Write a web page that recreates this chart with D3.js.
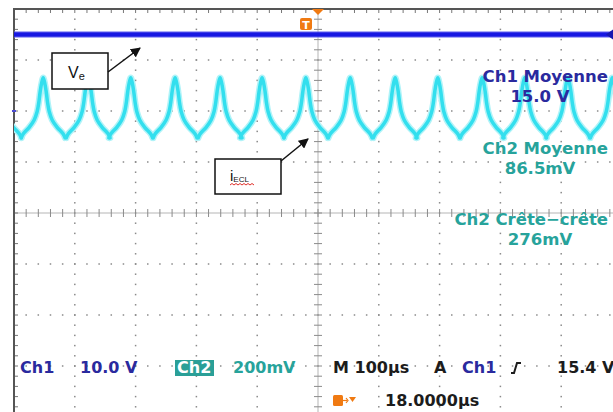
<!DOCTYPE html>
<html>
<head>
  <meta charset="utf8">
  <style type="text/css">
    body { margin: 0; background: #fff; }
    svg { display: block; }
    .scope-text { font-family: 'DejaVu Sans', sans-serif; font-weight: bold; }
    .note-text { font-family: 'Liberation Sans', Arial, sans-serif; }
  </style>
</head>
<body>

<script src="https://cdn.jsdelivr.net/npm/d3@7/dist/d3.min.js"></script>

<script type="text/javascript">

var width = 613, height = 412;

// horizontal: 100 us/div, trigger at centre
var timeRange = [-500, 500];

// Ch1 (V_e): 10 V/div, ground marker 2 div above centre
var ch1Scale = 10, ch1Ground = 2;
var ch1Times = [-500, 500];
var ch1Volts = [15.0, 15.0];

// Ch2 (i_ECL): 200 mV/div, ground ~1.3 div above centre
var ch2Scale = 200, ch2Ground = 1.3;
// peak instants (us)
var ch2PeakTimes = [-524, -452, -378, -308, -235, -161, -92, -20, 53, 127, 197, 270, 340, 411, 484];
// shape of one ripple cycle around its peak
var ch2ShapeOffsets = [-36, -33, -23, -14.8, -9.9, -7.4, -5, -2.5, 0, 2.5, 5, 7.4, 9.9, 14.8, 23, 33, 36];
var ch2ShapeMv = [35, 50, 76, 105, 138, 170, 215, 250, 270, 250, 215, 170, 138, 105, 76, 50, 35];

// measurement readouts
var measureTitles = ['Ch1 Moyenne', 'Ch2 Moyenne', 'Ch2 Cr\u00eate\u2212cr\u00eate'];
var measureValues = ['15.0 V', '86.5mV', '276mV'];
var measureChannels = [1, 2, 2];

var chColor = { 1: '#2a2a9e', 2: '#27a39b' };

var x = d3.scaleLinear().domain(timeRange).range([14, 622]);
var yDiv = d3.scaleLinear().domain([-4, 4]).range([417, 9]);

var svg = d3.select('body').append('svg')
    .attr('width', width)
    .attr('height', height);

svg.append('rect').attr('width', width).attr('height', height).attr('fill', '#fff');

var defs = svg.append('defs');
defs.append('clipPath').attr('id', 'screen')
  .append('rect')
  .attr('x', x(timeRange[0])).attr('y', yDiv(4))
  .attr('width', x(timeRange[1]) - x(timeRange[0]))
  .attr('height', yDiv(-4) - yDiv(4));

defs.append('marker')
    .attr('id', 'arrow')
    .attr('viewBox', '0 0 10 10')
    .attr('refX', 9).attr('refY', 5)
    .attr('markerWidth', 10).attr('markerHeight', 10)
    .attr('markerUnits', 'userSpaceOnUse')
    .attr('orient', 'auto')
  .append('path')
    .attr('d', 'M0,0 L10,5 L0,10 Z')
    .attr('fill', '#111');

// ---- graticule ----
var grid = svg.append('g').attr('class', 'grid');

var majorT = d3.range(-400, 401, 100).filter(function(d) { return d !== 0 });
var majorY = d3.range(-3, 4).filter(function(d) { return d !== 0 });
var minorT = d3.range(-500, 501, 20);
var minorY = d3.range(-20, 21).map(function(d) { return d / 5 });

// dotted horizontal division lines
majorY.forEach(function(dv) {
  grid.selectAll(null)
    .data(minorT)
    .enter().append('rect')
    .attr('x', function(t) { return x(t) - 0.75 })
    .attr('y', yDiv(dv) - 0.75)
    .attr('width', 1.5).attr('height', 1.5)
    .attr('fill', '#8a8a8a');
});

// dotted vertical division lines
majorT.forEach(function(t) {
  grid.selectAll(null)
    .data(minorY)
    .enter().append('rect')
    .attr('x', x(t) - 0.75)
    .attr('y', function(dv) { return yDiv(dv) - 0.75 })
    .attr('width', 1.5).attr('height', 1.5)
    .attr('fill', '#8a8a8a');
});

// centre cross
grid.append('line')
  .attr('x1', x(-500)).attr('x2', x(500))
  .attr('y1', yDiv(0)).attr('y2', yDiv(0))
  .attr('stroke', '#b5b5b5').attr('stroke-width', 1);
grid.append('line')
  .attr('x1', x(0)).attr('x2', x(0))
  .attr('y1', yDiv(4)).attr('y2', yDiv(-4))
  .attr('stroke', '#b5b5b5').attr('stroke-width', 1);

grid.selectAll('.ctick-x')
  .data(minorT)
  .enter().append('line')
  .attr('class', 'ctick-x')
  .attr('x1', function(t) { return x(t) }).attr('x2', function(t) { return x(t) })
  .attr('y1', yDiv(0) - 4).attr('y2', yDiv(0) + 4)
  .attr('stroke', '#8a8a8a').attr('stroke-width', 1);

grid.selectAll('.ctick-y')
  .data(minorY)
  .enter().append('line')
  .attr('class', 'ctick-y')
  .attr('x1', x(0) - 4).attr('x2', x(0) + 4)
  .attr('y1', function(d) { return yDiv(d) }).attr('y2', function(d) { return yDiv(d) })
  .attr('stroke', '#8a8a8a').attr('stroke-width', 1);

// border ticks
grid.selectAll('.btick-x')
  .data(minorT)
  .enter().append('line')
  .attr('x1', function(t) { return x(t) }).attr('x2', function(t) { return x(t) })
  .attr('y1', yDiv(4)).attr('y2', yDiv(4) + 4)
  .attr('stroke', '#777').attr('stroke-width', 1);

grid.selectAll('.btick-y')
  .data(minorY)
  .enter().append('line')
  .attr('x1', x(-500)).attr('x2', x(-500) + 4)
  .attr('y1', function(d) { return yDiv(d) }).attr('y2', function(d) { return yDiv(d) })
  .attr('stroke', '#777').attr('stroke-width', 1);

// frame (top and left edges visible)
grid.append('path')
  .attr('d', 'M' + x(-500) + ',' + height + 'V' + yDiv(4) + 'H' + width)
  .attr('fill', 'none')
  .attr('stroke', '#555')
  .attr('stroke-width', 2);

// ---- traces ----
var traces = svg.append('g').attr('clip-path', 'url(#screen)');

var ch1Y = function(v) { return yDiv(ch1Ground + v / ch1Scale) };
var ch2Y = function(mv) { return yDiv(ch2Ground + mv / ch2Scale) };

var ch1Data = ch1Times.map(function(t, i) { return [t, ch1Volts[i]] });

var line1 = d3.line()
  .x(function(d) { return x(d[0]) })
  .y(function(d) { return ch1Y(d[1]) });

traces.append('path')
  .datum(ch1Data)
  .attr('d', line1)
  .attr('fill', 'none')
  .attr('stroke', '#6a6af0')
  .attr('stroke-width', 7)
  .attr('opacity', 0.55);

traces.append('path')
  .datum(ch1Data)
  .attr('d', line1)
  .attr('fill', 'none')
  .attr('stroke', '#1717e2')
  .attr('stroke-width', 4.5);

var line2 = d3.line()
  .x(function(d) { return x(d[0]) })
  .y(function(d) { return ch2Y(d[1]) })
  .curve(d3.curveCatmullRom.alpha(0.5));

var cycles = ch2PeakTimes.map(function(p) {
  return ch2ShapeOffsets.map(function(o, i) { return [p + o, ch2ShapeMv[i]] });
});

traces.selectAll('.halo2')
  .data(cycles)
  .enter().append('path')
  .attr('d', line2)
  .attr('fill', 'none')
  .attr('stroke', '#b0f3f8')
  .attr('stroke-width', 6.5)
  .attr('stroke-linecap', 'round');

traces.selectAll('.trace2')
  .data(cycles)
  .enter().append('path')
  .attr('d', line2)
  .attr('fill', 'none')
  .attr('stroke', '#33dfee')
  .attr('stroke-width', 3.5)
  .attr('stroke-linecap', 'round');

// channel markers
svg.append('path')
  .attr('d', 'M' + (width - 7) + ',' + ch1Y(15) + 'l7,-5v10z')
  .attr('fill', '#1717b0');
svg.append('line')
  .attr('x1', x(-500) - 2).attr('x2', x(-500) + 2)
  .attr('y1', yDiv(ch1Ground)).attr('y2', yDiv(ch1Ground))
  .attr('stroke', '#4a4ad0').attr('stroke-width', 2);

// trigger marker
svg.append('path')
  .attr('d', 'M' + (x(0) - 6) + ',' + yDiv(4) + 'h12l-6,6z')
  .attr('fill', '#f07a12');
svg.append('rect')
  .attr('x', x(0) - 18).attr('y', 18).attr('width', 12).attr('height', 12)
  .attr('rx', 2).attr('fill', '#f07a12');
svg.append('text')
  .attr('class', 'scope-text')
  .attr('x', x(0) - 12).attr('y', 28.5)
  .attr('text-anchor', 'middle')
  .attr('font-size', 11)
  .attr('fill', '#fff')
  .text('T');

// ---- measurement readouts ----
var readY = [[82, 101.5], [154, 173.5], [225, 244.5]];
var readout = svg.append('g').attr('class', 'scope-text').attr('font-size', 16.5);

measureTitles.forEach(function(title, i) {
  var c = chColor[measureChannels[i]];
  readout.append('text')
    .attr('x', 608).attr('y', readY[i][0])
    .attr('text-anchor', 'end')
    .attr('fill', c)
    .text(title);
  readout.append('text')
    .attr('x', 540).attr('y', readY[i][1])
    .attr('text-anchor', 'middle')
    .attr('fill', c)
    .text(measureValues[i]);
});

// ---- status line ----
var statusBar = svg.append('g').attr('class', 'scope-text').attr('font-size', 16);

statusBar.append('text').attr('x', 20).attr('y', 373).attr('fill', chColor[1]).text('Ch1');
statusBar.append('text').attr('x', 80).attr('y', 373).attr('fill', chColor[1]).text('10.0 V');
statusBar.append('rect').attr('x', 175).attr('y', 360).attr('width', 39).attr('height', 16).attr('fill', '#2a9f97');
statusBar.append('text').attr('x', 177).attr('y', 373).attr('fill', '#fff').text('Ch2');
statusBar.append('text').attr('x', 233).attr('y', 373).attr('fill', chColor[2]).text('200mV');
statusBar.append('text').attr('x', 333).attr('y', 373).attr('fill', '#1c1c1c').text('M 100\u00b5s');
statusBar.append('text').attr('x', 434).attr('y', 373).attr('fill', '#1c1c1c').text('A');
statusBar.append('text').attr('x', 462).attr('y', 373).attr('fill', chColor[1]).text('Ch1');
statusBar.append('path')
  .attr('d', 'M511,373 h3 l3,-10 h4')
  .attr('fill', 'none').attr('stroke', '#1c1c1c').attr('stroke-width', 2);
statusBar.append('text').attr('x', 557).attr('y', 373).attr('fill', '#1c1c1c').text('15.4 V');

statusBar.append('rect').attr('x', 333).attr('y', 395).attr('width', 10).attr('height', 11).attr('rx', 1.5).attr('fill', '#f07a12');
statusBar.append('path').attr('d', 'M343,400.5 h4').attr('stroke', '#f07a12').attr('stroke-width', 1.2);
statusBar.append('path').attr('d', 'M346,398 l2,2.5 l-2,2.5').attr('fill', 'none').attr('stroke', '#f07a12').attr('stroke-width', 1.2);
statusBar.append('path').attr('d', 'M349,397 h7 l-3.5,5z').attr('fill', '#f07a12');
statusBar.append('text').attr('x', 385).attr('y', 406).attr('fill', '#1c1c1c').text('18.0000\u00b5s');

// ---- annotation boxes ----
var notes = svg.append('g').attr('class', 'note-text');

notes.append('rect')
  .attr('x', 52).attr('y', 53).attr('width', 56).attr('height', 36)
  .attr('fill', '#fff').attr('stroke', '#111').attr('stroke-width', 1.5);
var ve = notes.append('text').attr('x', 68).attr('y', 78).attr('font-size', 16).attr('fill', '#111');
ve.append('tspan').text('V');
ve.append('tspan').attr('font-size', 11).attr('dy', 2).text('e');
notes.append('line')
  .attr('x1', 108).attr('y1', 72).attr('x2', 140).attr('y2', 48)
  .attr('stroke', '#111').attr('stroke-width', 1.5)
  .attr('marker-end', 'url(#arrow)');

notes.append('rect')
  .attr('x', 215).attr('y', 159).attr('width', 66).attr('height', 35)
  .attr('fill', '#fff').attr('stroke', '#111').attr('stroke-width', 1.5);
var ie = notes.append('text').attr('x', 230).attr('y', 181).attr('font-size', 15).attr('fill', '#111');
ie.append('tspan').text('i');
ie.append('tspan').attr('font-size', 8).attr('dy', 1).text('ECL');
notes.append('path')
  .attr('d', 'M230,185 l2,-1.5 l2,1.5 l2,-1.5 l2,1.5 l2,-1.5 l2,1.5 l2,-1.5 l2,1.5 l2,-1.5 l2,1.5 l2,-1.5 l2,1.5')
  .attr('fill', 'none').attr('stroke', '#e0302a').attr('stroke-width', 1);
notes.append('line')
  .attr('x1', 281).attr('y1', 161).attr('x2', 308).attr('y2', 139)
  .attr('stroke', '#111').attr('stroke-width', 1.5)
  .attr('marker-end', 'url(#arrow)');

</script>

</body>
</html>
